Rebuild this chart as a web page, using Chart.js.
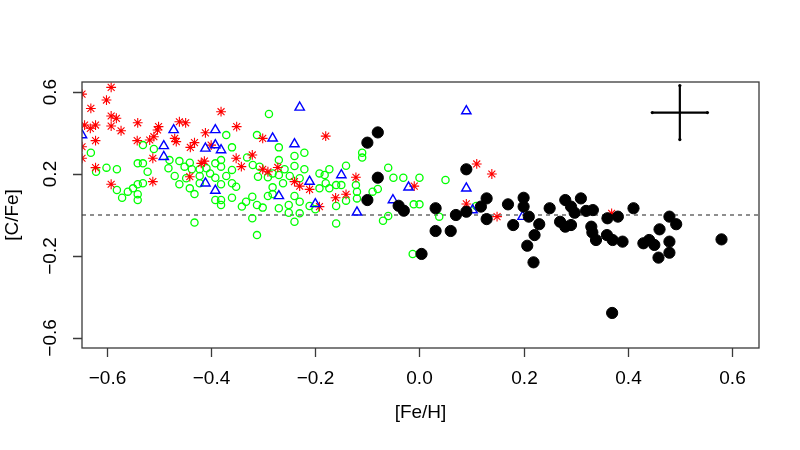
<!DOCTYPE html>
<html>
<head>
<meta charset="utf-8">
<script src="https://cdn.jsdelivr.net/npm/chart.js@4/dist/chart.umd.min.js"></script>
<style>
  html, body { margin: 0; padding: 0; background: #fff; }
  canvas { display: block; }
</style>
</head>
<body>
<canvas id="cfe" width="800" height="450"></canvas>
<script>
// axis ticks
const xTicks = [-0.6, -0.4, -0.2, 0.0, 0.2, 0.4, 0.6];
const xTickLabels = ['\u22120.6', '\u22120.4', '\u22120.2', '0.0', '0.2', '0.4', '0.6'];
const yTicks = [-0.6, -0.2, 0.2, 0.6];
const yTickLabels = ['\u22120.6', '\u22120.2', '0.2', '0.6'];

// green open circles
const greenFeH = [-0.631, -0.621, -0.601, -0.581, -0.581, -0.571, -0.56, -0.55, -0.541, -0.531, -0.541, -0.541, -0.541, -0.531, -0.522, -0.531, -0.51, -0.48, -0.482, -0.47, -0.461, -0.461, -0.451, -0.448, -0.441, -0.441, -0.437, -0.432, -0.432, -0.422, -0.422, -0.422, -0.409, -0.402, -0.392, -0.392, -0.392, -0.381, -0.381, -0.381, -0.381, -0.381, -0.371, -0.371, -0.36, -0.36, -0.36, -0.36, -0.352, -0.341, -0.333, -0.331, -0.321, -0.321, -0.312, -0.312, -0.312, -0.32, -0.31,
  -0.289, -0.27, -0.221, -0.24, -0.307, -0.27, -0.24, -0.221, -0.259, -0.282, -0.291, -0.27, -0.249, -0.23, -0.262, -0.282, -0.301, -0.291, -0.282, -0.27, -0.251, -0.251, -0.24, -0.24, -0.23, -0.23, -0.211, -0.2, -0.192, -0.192, -0.182, -0.18, -0.173, -0.173, -0.16, -0.16, -0.16, -0.141, -0.141, -0.15, -0.122, -0.12, -0.12, -0.11, -0.11, -0.09, -0.08, -0.06, -0.05, -0.031, 0.0, -0.011, 0.0, -0.07, -0.06,
  0.05, 0.038, 0.109, -0.013];
const greenCFe = [0.304, 0.211, 0.231, 0.223, 0.122, 0.084, 0.114, 0.13, 0.15, 0.155, 0.101, 0.073, 0.252, 0.252, 0.211, 0.341, 0.322, 0.268, 0.228, 0.19, 0.263, 0.15, 0.236, 0.179, 0.255, 0.13, 0.223, 0.102, -0.037, 0.223, 0.19, 0.155, 0.228, 0.203, 0.252, 0.182, 0.073, 0.268, 0.236, 0.15, 0.073, 0.049, 0.39, 0.19, 0.33, 0.22, 0.155, 0.084, 0.138, 0.041, 0.065, 0.281, 0.089, -0.016, 0.049, 0.39, -0.098, 0.244, 0.187,
  0.493, 0.33, 0.304, 0.288, 0.236, 0.268, 0.239, 0.223, 0.223, 0.203, 0.184, 0.195, 0.19, 0.179, 0.155, 0.135, 0.036, 0.093, 0.102, 0.033, 0.049, 0.011, 0.093, -0.033, 0.065, 0.008, 0.044, 0.028, 0.203, 0.13, 0.195, 0.155, 0.223, 0.13, 0.146, 0.044, -0.041, 0.24, 0.07, 0.146, 0.146, 0.114, 0.081, 0.304, 0.28, 0.114, 0.127, 0.231, 0.182, 0.182, 0.182, 0.052, 0.052, -0.028, -0.005,
  0.171, -0.008, 0.044, -0.19];

// red asterisks
const redFeH = [-0.648, -0.592, -0.601, -0.631, -0.592, -0.582, -0.643, -0.632, -0.622, -0.592, -0.573, -0.541, -0.622, -0.648, -0.648, -0.622, -0.592, -0.542, -0.512, -0.512, -0.518, -0.51, -0.501, -0.503, -0.47, -0.467, -0.461, -0.449, -0.44, -0.432, -0.411, -0.413, -0.419, -0.381, -0.4, -0.351, -0.352, -0.342, -0.321, -0.441, -0.301, -0.18, -0.301, -0.291, -0.272, -0.24, -0.23, -0.211, -0.192, -0.161, -0.141, -0.122, -0.01, 0.11, 0.139, 0.09, 0.149, 0.369];
const redCFe = [0.59, 0.623, 0.561, 0.52, 0.483, 0.472, 0.439, 0.423, 0.439, 0.434, 0.411, 0.45, 0.363, 0.333, 0.277, 0.231, 0.15, 0.363, 0.277, 0.163, 0.366, 0.382, 0.431, 0.415, 0.374, 0.358, 0.455, 0.45, 0.33, 0.353, 0.401, 0.263, 0.252, 0.504, 0.341, 0.431, 0.277, 0.236, 0.293, 0.187, 0.374, 0.385, 0.223, 0.211, 0.232, 0.163, 0.141, 0.125, 0.041, 0.084, 0.101, 0.184, 0.141, 0.249, 0.2, 0.054, -0.008, 0.008];

// blue open triangles
const blueFeH = [-0.648, -0.472, -0.491, -0.491, -0.392, -0.411, -0.392, -0.381, -0.411, -0.392, -0.23, -0.282, -0.24, -0.211, -0.27, -0.2, -0.15, -0.12, -0.051, -0.021, 0.09, 0.09, 0.102, 0.198];
const blueCFe = [0.39, 0.415, 0.337, 0.284, 0.415, 0.325, 0.341, 0.317, 0.155, 0.119, 0.525, 0.374, 0.346, 0.163, 0.093, 0.054, 0.195, 0.013, 0.073, 0.135, 0.507, 0.13, 0.024, -0.008];

// black filled circles
const blackFeH = [-0.08, -0.10, -0.08, -0.10, -0.04, -0.03, 0.031, 0.031, 0.06, 0.07, 0.09, 0.09, 0.118, 0.129, 0.129, 0.17, 0.18, 0.2, 0.2, 0.21, 0.221, 0.23, 0.25, 0.27, 0.28, 0.28, 0.291, 0.31, 0.291, 0.298, 0.32, 0.333, 0.33, 0.332, 0.339, 0.361, 0.381, 0.36, 0.371, 0.39, 0.411, 0.43, 0.441, 0.451, 0.461, 0.459, 0.48, 0.493, 0.48, 0.48, 0.58, 0.37, 0.004, 0.207, 0.219];
const blackCFe = [0.403, 0.353, 0.182, 0.073, 0.045, 0.021, 0.033, -0.078, -0.078, 0.0, 0.016, 0.223, 0.041, 0.081, -0.02, 0.052, -0.049, 0.084, 0.041, -0.008, -0.098, -0.045, 0.033, -0.033, 0.073, -0.057, -0.049, 0.081, 0.041, 0.011, 0.02, 0.024, -0.057, -0.085, -0.122, -0.016, -0.008, -0.098, -0.122, -0.13, 0.033, -0.138, -0.122, -0.146, -0.07, -0.208, -0.008, -0.045, -0.13, -0.184, -0.119, -0.478, -0.19, -0.15, -0.231];

// typical error bar (centre and half-widths)
const errCentre = [0.5, 0.5];
const errFeH = 0.053;
const errCFe = 0.132;

const xRange = [-0.648, 0.652];
const yRange = [-0.649, 0.649];

function pts(xs, ys) {
  return xs.map((v, i) => ({ x: v, y: ys[i] }));
}

const font = '"Liberation Sans", Arial, Helvetica, sans-serif';

// box, ticks, labels in R style
const rFrame = {
  id: 'rFrame',
  afterDraw(chart) {
    const { ctx, chartArea: a, scales: { x, y } } = chart;
    ctx.save();
    ctx.strokeStyle = '#3a3a3a';
    ctx.lineWidth = 1.3;
    ctx.strokeRect(a.left, a.top, a.right - a.left, a.bottom - a.top);

    ctx.fillStyle = '#000';
    ctx.font = '19px ' + font;
    ctx.textAlign = 'center';
    ctx.textBaseline = 'middle';

    ctx.beginPath();
    xTicks.forEach((v, i) => {
      const px = Math.round(x.getPixelForValue(v)) + 0.5;
      ctx.moveTo(px, a.bottom);
      ctx.lineTo(px, a.bottom + 9);
      ctx.fillText(xTickLabels[i], px, a.bottom + 31);
    });
    yTicks.forEach((v) => {
      const py = Math.round(y.getPixelForValue(v)) + 0.5;
      ctx.moveTo(a.left - 9, py);
      ctx.lineTo(a.left, py);
    });
    ctx.stroke();

    yTicks.forEach((v, i) => {
      const py = y.getPixelForValue(v);
      ctx.save();
      ctx.translate(a.left - 31, py);
      ctx.rotate(-Math.PI / 2);
      ctx.fillText(yTickLabels[i], 0, 0);
      ctx.restore();
    });

    ctx.fillText('[Fe/H]', (a.left + a.right) / 2, a.bottom + 65);
    ctx.save();
    ctx.translate(13, (a.top + a.bottom) / 2);
    ctx.rotate(-Math.PI / 2);
    ctx.fillText('[C/Fe]', 0, 0);
    ctx.restore();
    ctx.restore();
  }
};

new Chart(document.getElementById('cfe'), {
  type: 'scatter',
  data: {
    datasets: [
      {
        label: 'err FeH',
        type: 'line',
        data: [{ x: errCentre[0] - errFeH, y: errCentre[1] }, { x: errCentre[0] + errFeH, y: errCentre[1] }],
        borderColor: '#000', borderWidth: 2.2, pointRadius: 1.6, pointBackgroundColor: '#000', pointBorderWidth: 0, showLine: true
      },
      {
        label: 'err CFe',
        type: 'line',
        data: [{ x: errCentre[0], y: errCentre[1] - errCFe }, { x: errCentre[0], y: errCentre[1] + errCFe }],
        borderColor: '#000', borderWidth: 2.2, pointRadius: 1.6, pointBackgroundColor: '#000', pointBorderWidth: 0, showLine: true
      },
      {
        label: 'black',
        data: pts(blackFeH, blackCFe),
        pointStyle: 'circle', pointRadius: 5.6, pointBorderWidth: 1,
        pointBackgroundColor: '#000', pointBorderColor: '#000', clip: 0
      },
      {
        label: 'blue',
        data: pts(blueFeH, blueCFe),
        pointStyle: 'triangle', pointRadius: 5.4, pointBorderWidth: 1.4,
        pointBackgroundColor: 'rgba(0,0,0,0)', pointBorderColor: '#0000ff', clip: 0
      },
      {
        label: 'red',
        data: pts(redFeH, redCFe),
        pointStyle: 'star', pointRadius: 4.9, pointBorderWidth: 1.1,
        pointBackgroundColor: '#ff0000', pointBorderColor: '#ff0000', clip: 0
      },
      {
        label: 'green',
        data: pts(greenFeH, greenCFe),
        pointStyle: 'circle', pointRadius: 3.6, pointBorderWidth: 1.3,
        pointBackgroundColor: 'rgba(0,0,0,0)', pointBorderColor: '#00ff00', clip: 0
      },
      {
        label: 'zero',
        type: 'line',
        data: [{ x: xRange[0], y: 0 }, { x: xRange[1], y: 0 }],
        borderColor: '#444', borderWidth: 1.2, borderDash: [4, 4], pointRadius: 0, showLine: true, clip: 0
      }
    ]
  },
  options: {
    responsive: false,
    animation: false,
    layout: { padding: { left: 82, top: 82, right: 41, bottom: 102 } },
    plugins: { legend: { display: false }, tooltip: { enabled: false } },
    scales: {
      x: { type: 'linear', min: xRange[0], max: xRange[1], display: false },
      y: { type: 'linear', min: yRange[0], max: yRange[1], display: false }
    }
  },
  plugins: [rFrame]
});
</script>
</body>
</html>
